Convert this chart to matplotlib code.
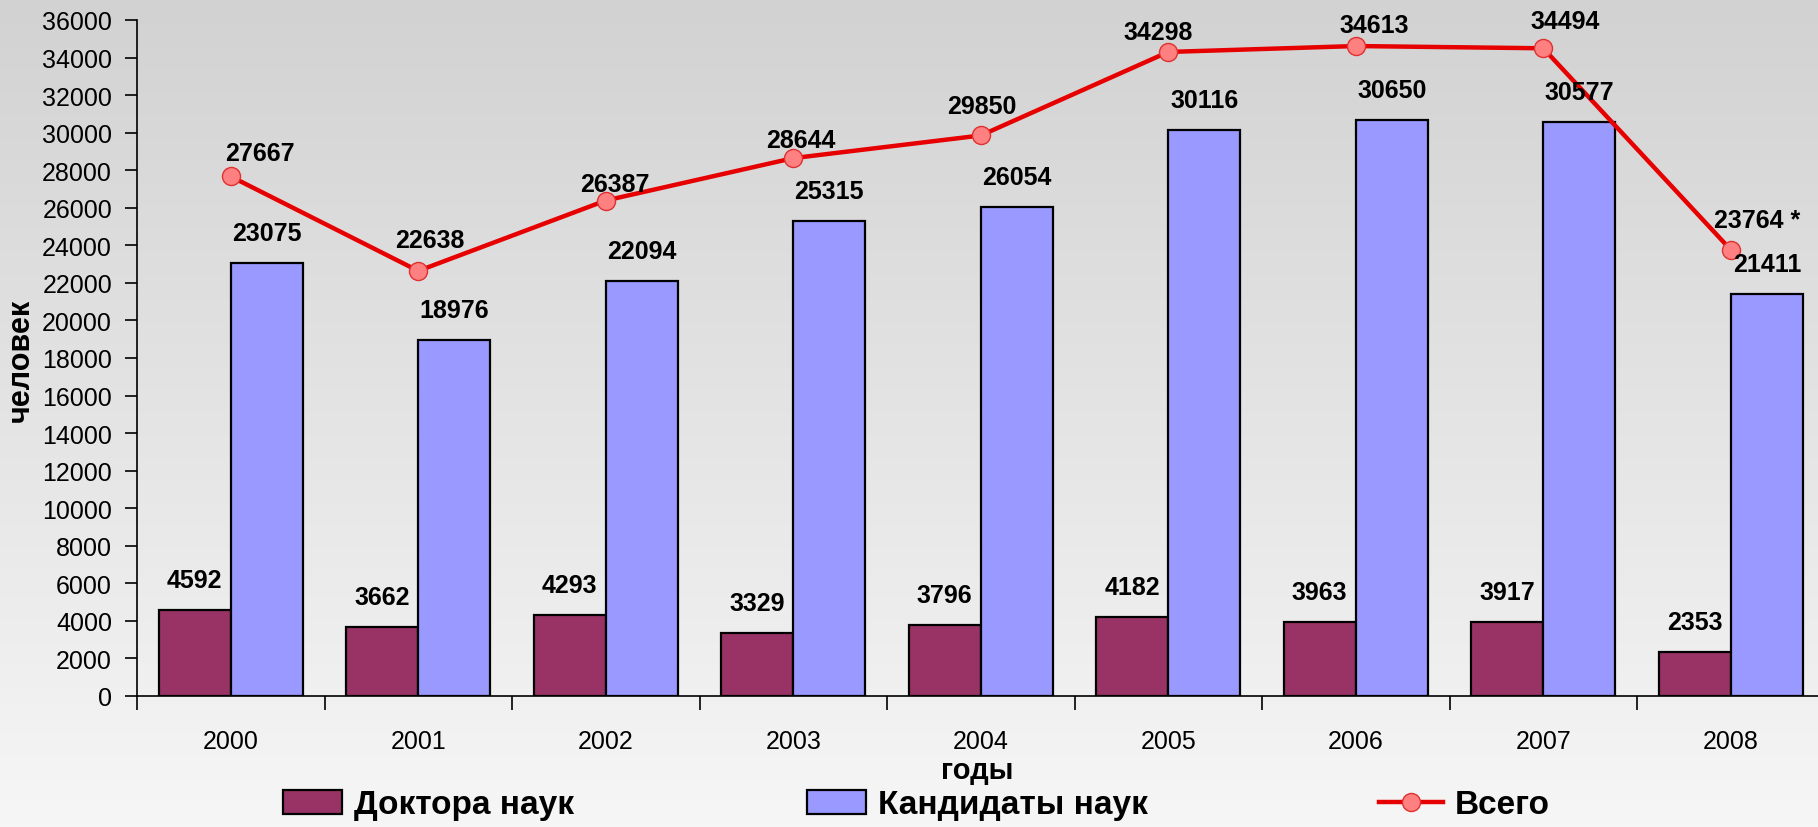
import matplotlib
matplotlib.use("Agg")
import matplotlib.pyplot as plt
import numpy as np
from matplotlib.patches import Patch
from matplotlib.lines import Line2D
from matplotlib.colors import LinearSegmentedColormap

years = ["2000", "2001", "2002", "2003", "2004", "2005", "2006", "2007", "2008"]
doctors = [4592, 3662, 4293, 3329, 3796, 4182, 3963, 3917, 2353]
candidates = [23075, 18976, 22094, 25315, 26054, 30116, 30650, 30577, 21411]
total = [27667, 22638, 26387, 28644, 29850, 34298, 34613, 34494, 23764]
total_labels = ["27667", "22638", "26387", "28644", "29850", "34298", "34613", "34494", "23764 *"]
yticks = list(range(0, 36001, 2000))

# label offsets (pixels) for line labels
line_lbl_off = [(29, 23), (12, 31), (9, 17), (8, 18), (1, 29), (-10, 20), (18, 21), (22, 27), (26, 30)]

plt.rcParams['font.family'] = ['Liberation Sans', 'DejaVu Sans']

W, H = 1818, 828
fig = plt.figure(figsize=(W / 100, H / 100), dpi=100)

# gradient background
bg = fig.add_axes([0, 0, 1, 1], zorder=-10)
grad = np.linspace(0, 1, 256).reshape(-1, 1)
cmap = LinearSegmentedColormap.from_list("g", ["#d2d2d2", "#f6f6f6"])
bg.imshow(grad, aspect="auto", cmap=cmap, extent=[0, 1, 0, 1], origin="upper")
bg.axis("off")

left = 137 / W
right = 1824.5 / W
bottom = 1 - 697 / H
top = 1 - 21 / H
ax = fig.add_axes([left, bottom, right - left, top - bottom])
ax.set_facecolor("none")

x = np.arange(len(years))
bw = 0.385
ax.bar(x - bw / 2, doctors, bw, color="#993366", edgecolor="black", linewidth=1.6, zorder=2)
ax.bar(x + bw / 2, candidates, bw, color="#9999FF", edgecolor="black", linewidth=1.6, zorder=2)
ax.plot(x, total, color="#e60000", linewidth=3.2, marker="o", markersize=13,
        markerfacecolor="#ff8080", markeredgecolor="#e03030", markeredgewidth=1, zorder=4)

lblkw = dict(fontsize=18, fontweight="bold", ha="center", va="center",
             textcoords="offset pixels", zorder=5)
for xi, v in zip(x, doctors):
    ax.annotate(str(v), (xi - bw / 2, v), xytext=(0, 30), **lblkw)
for xi, v in zip(x, candidates):
    ax.annotate(str(v), (xi + bw / 2, v), xytext=(0, 30), **lblkw)
for xi, v, s, off in zip(x, total, total_labels, line_lbl_off):
    ax.annotate(s, (xi, v), xytext=off, **lblkw)

ax.set_xlim(-0.5, 8.5)
ax.set_ylim(0, 36000)
ax.set_yticks(yticks)
ax.set_yticklabels([str(t) for t in yticks])
ax.set_xticks(x)
ax.set_xticklabels(years)
ax.set_xticks(np.arange(-0.5, 9.0, 1.0), minor=True)
ax.tick_params(axis="x", which="major", length=0, pad=24, labelsize=18)
ax.tick_params(axis="x", which="minor", length=10, width=1.2, direction="out")
ax.tick_params(axis="y", length=9, width=1.2, pad=9, labelsize=18)
for s in ["top", "right"]:
    ax.spines[s].set_visible(False)
ax.spines["left"].set_linewidth(1.2)
ax.spines["bottom"].set_linewidth(1.2)

fig.text(21 / W, 1 - 360 / H, "человек", rotation=90, fontsize=22, fontweight="bold",
         ha="center", va="center")
fig.text(977 / W, 1 - 771 / H, "годы", fontsize=21, fontweight="bold", ha="center", va="center")

legkw = dict(frameon=False, prop=dict(weight="bold", size=24),
             borderpad=0, borderaxespad=0, handletextpad=0.35, loc="center left")
h1 = Patch(facecolor="#993366", edgecolor="black", linewidth=1.6)
h2 = Patch(facecolor="#9999FF", edgecolor="black", linewidth=1.6)
h3 = Line2D([], [], color="#e60000", linewidth=3.2, marker="o", markersize=13,
            markerfacecolor="#ff8080", markeredgecolor="#e03030")
ly = 1 - 806 / H
fig.legend([h1], ["Доктора наук"], bbox_to_anchor=(283 / W, ly),
           handlelength=1.78, handleheight=0.7, **legkw)
fig.legend([h2], ["Кандидаты наук"], bbox_to_anchor=(807 / W, ly),
           handlelength=1.78, handleheight=0.7, **legkw)
fig.legend([h3], ["Всего"], bbox_to_anchor=(1379 / W, ly),
           handlelength=1.92, **legkw)

fig.savefig("out.png", dpi=100)
